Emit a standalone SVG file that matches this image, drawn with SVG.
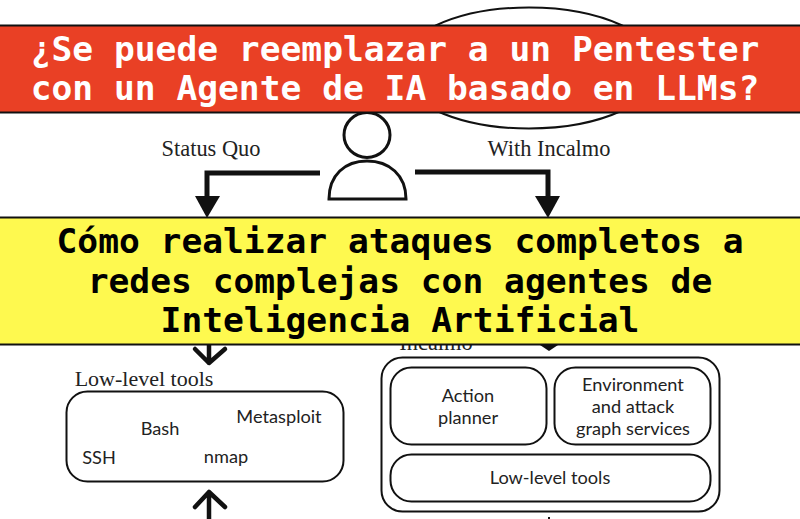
<svg xmlns="http://www.w3.org/2000/svg" width="800" height="519" viewBox="0 0 800 519">
<defs>
<style>
.box{fill:#fff;stroke:#111;stroke-width:2}
.conn{fill:none;stroke:#111;stroke-width:5}
.open{fill:none;stroke:#111;stroke-width:4.500;stroke-linejoin:round;stroke-linecap:round}
.sans{font-family:Lato,"Liberation Sans",sans-serif;font-size:18.200px;fill:#222}
.serif{font-family:"Liberation Serif","DejaVu Serif",serif;font-size:22.400px;fill:#222}
.mono{font-family:"DejaVu Sans Mono","Liberation Mono",monospace;font-weight:bold;font-size:34.600px;text-anchor:middle}
.m{text-anchor:middle}
</style>
</defs>
<rect width="800" height="519" fill="#fff"/>
<g id="cloud"><ellipse cx="529" cy="68" rx="131" ry="60.500" fill="#fff" stroke="#111" stroke-width="2"/></g>
<g id="person">
<ellipse cx="367" cy="135" rx="23" ry="22.500" fill="#fff" stroke="#111" stroke-width="3"/>
<path d="M329 199C329 175 345 161 367 161C389 161 406 175 406 199Z" fill="#fff" stroke="#111" stroke-width="3"/>
</g>
<g id="connectors">
<path class="conn" d="M320 173H207V197"/>
<path d="M195 196H220L207 218Z" fill="#111"/>
<path class="conn" d="M415 172H548V197"/>
<path d="M535 196H560L548 218Z" fill="#111"/>
<path class="open" d="M209 340V363M195 349L209 363L225 349"/>
<path class="open" d="M209 519V492M195 507L209 492L225 507"/>
<path d="M540 345H558L549 351Z" fill="#111"/>
<path class="conn" style="stroke-width:2" d="M549 517V519"/>
</g>
<g id="status-quo-label"><text class="serif" x="211" y="156" text-anchor="middle">Status Quo</text></g>
<g id="with-incalmo-label"><text class="serif" x="549" y="156" text-anchor="middle">With Incalmo</text></g>
<g id="incalmo-label"><text class="serif" x="436" y="350" text-anchor="middle">Incalmo</text></g>
<g id="low-level-label"><text class="serif" x="144" y="386" text-anchor="middle" style="font-size:22px">Low-level tools</text></g>
<g id="low-level-box">
<rect class="box" x="66.500" y="391.500" width="277" height="90" rx="21"/>
<text class="sans" x="160" y="435" text-anchor="middle">Bash</text>
<text class="sans" x="279" y="423" text-anchor="middle">Metasploit</text>
<text class="sans" x="99" y="464" text-anchor="middle">SSH</text>
<text class="sans" x="226" y="463" text-anchor="middle">nmap</text>
</g>
<g id="incalmo-box">
<rect class="box" x="381.500" y="357.500" width="338" height="154" rx="21"/>
</g>
<g id="action-planner">
<rect class="box" x="390.500" y="367.500" width="156" height="77" rx="21"/>
<text class="sans m" x="468" y="402">Action</text>
<text class="sans m" x="468" y="424">planner</text>
</g>
<g id="services">
<rect class="box" x="554.500" y="367.500" width="156" height="77" rx="21"/>
<text class="sans m" x="633" y="391">Environment</text>
<text class="sans m" x="633" y="413">and attack</text>
<text class="sans m" x="633" y="435">graph services</text>
</g>
<g id="low-level-tools">
<rect class="box" x="390.500" y="454.500" width="320" height="47" rx="21"/>
<text class="sans m" x="550" y="484">Low-level tools</text>
</g>
<g id="banner-red">
<rect x="-2" y="25.500" width="804" height="87" fill="#e94025" stroke="#111" stroke-width="2"/>
<text class="mono" x="395" y="61" fill="#fff">¿Se puede reemplazar a un Pentester</text>
<text class="mono" x="395" y="100" fill="#fff">con un Agente de IA basado en LLMs?</text>
</g>
<g id="banner-yellow">
<rect x="-2" y="217.500" width="804" height="127" fill="#fef94f" stroke="#111" stroke-width="2"/>
<text class="mono" x="400" y="253" fill="#000">Cómo realizar ataques completos a</text>
<text class="mono" x="400" y="293" fill="#000">redes complejas con agentes de</text>
<text class="mono" x="400" y="332" fill="#000">Inteligencia Artificial</text>
</g>
</svg>
